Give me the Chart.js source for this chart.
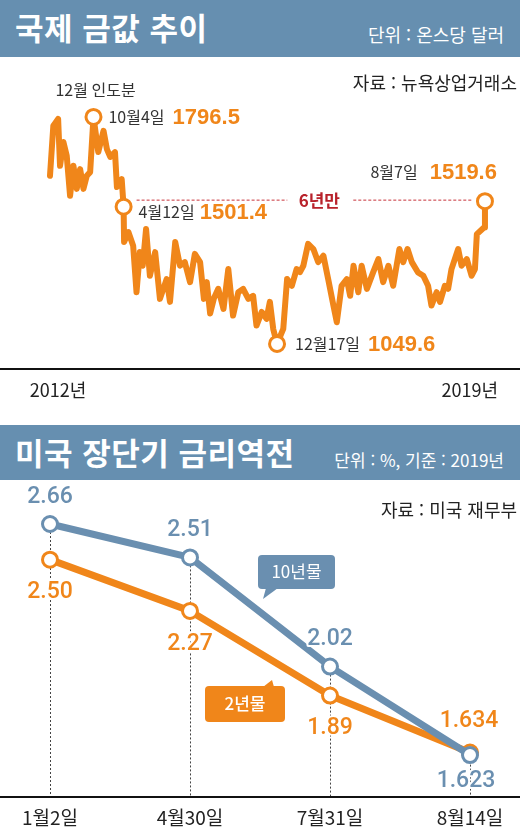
<!DOCTYPE html>
<html lang="ko">
<head>
<meta charset="utf-8">
<script src="https://cdn.jsdelivr.net/npm/chart.js@4.4.1/dist/chart.umd.min.js"></script>
<style>
  body { margin:0; width:520px; height:829px; background:#fff; position:relative; overflow:hidden;
         font-family:"Noto Sans CJK KR", sans-serif; }
  .bar { position:absolute; left:0; width:520px; background:#668fb0; color:#fff; }
  .bar h1 { position:absolute; left:15px; top:11px; margin:0; font-size:31px; font-weight:700; line-height:1; letter-spacing:0.5px; }
  .bar span { position:absolute; right:16px; line-height:1; }
  #bar1 { top:0; height:57px; }
  #bar1 span { top:25px; font-size:18px; }
  #bar2 { top:425px; height:55px; }
  #bar2 span { top:26px; font-size:17px; }
  .src { position:absolute; right:3px; font-size:18px; color:#222; line-height:1; }
  canvas { position:absolute; left:0; }
  #gold { top:57px; }
  #rate { top:480px; }
</style>
</head>
<body>
<div class="bar" id="bar1"><h1>국제 금값 추이</h1><span>단위 : 온스당 달러</span></div>
<canvas id="gold" width="520" height="353"></canvas>
<div class="src" style="top:73px">자료 : 뉴욕상업거래소</div>
<div class="bar" id="bar2"><h1>미국 장단기 금리역전</h1><span>단위 : %, 기준 : 2019년</span></div>
<canvas id="rate" width="520" height="349"></canvas>
<div class="src" style="top:500px">자료 : 미국 재무부</div>
<script>
// ---- 국제 금값 (months since Jan 2012, $/oz) ----
const goldT = [0.0,0.7,1.7,2.1,2.8,3.5,4.2,4.9,5.6,6.3,
  7.0,7.7,8.4,9.1,10.1,11.2,11.9,12.6,13.6,14.0,
  15.0,15.4,15.5,16.4,17.4,18.1,18.8,19.4,20.1,20.9,
  22.0,23.0,24.4,25.1,26.2,27.2,28.2,29.3,30.3,31.4,
  32.2,32.8,33.5,34.3,35.2,36.3,37.3,38.3,39.4,40.4,
  41.5,42.5,43.2,44.3,45.3,46.0,46.7,47.5,48.8,49.6,
  50.6,51.6,52.3,53.0,54.0,55.1,56.1,57.2,58.2,59.3,
  60.0,61.0,62.1,62.8,63.5,64.5,65.2,66.3,67.6,68.7,
  69.7,70.8,71.8,73.1,73.9,74.8,75.7,77.0,78.1,79.1,
  79.8,80.9,81.6,82.6,83.3,84.0,84.7,85.4,86.1,87.2,
  88.2,88.9,89.3,90.8,91.0];
const goldPrice = [1603,1768,1790,1636,1714,1669,1537,1636,1560,1625,
  1560,1603,1615,1796.5,1681,1751,1691,1665,1681,1566,
  1592,1501.4,1385,1418,1373,1220,1352,1307,1428,1274,
  1352,1198,1263,1188,1385,1307,1319,1253,1346,1319,
  1198,1253,1150,1200,1231,1165,1296,1143,1220,1231,
  1198,1208,1110,1155,1132,1188,1099,1049.6,1099,1263,
  1241,1296,1286,1307,1379,1362,1319,1340,1263,1176,
  1121,1241,1263,1208,1307,1220,1307,1231,1285,1329,
  1253,1307,1241,1362,1319,1362,1319,1285,1274,1241,
  1176,1220,1188,1241,1231,1296,1329,1362,1307,1329,
  1274,1296,1411,1433,1519.6];
const markValues = [1796.5, 1501.4, 1049.6, 1519.6];
const markDates  = ['10월4일', '4월12일', '12월17일', '8월7일'];
const yearLabels = ['2012년', '2019년'];

// ---- 미국 국채 금리 (%) ----
const rateDates = ['1월2일', '4월30일', '7월31일', '8월14일'];
const tenYear = [2.66, 2.51, 2.02, 1.623];
const twoYear = [2.50, 2.27, 1.89, 1.634];

const ORANGE = '#f0861a';
const BLUE = '#6a8fb0';
const KR = '"Noto Sans CJK KR", sans-serif';
const NUM = '"Liberation Sans", Arial, sans-serif';

const markIdx = markValues.map(v => goldPrice.indexOf(v));

function txt(ctx, s, x, y, font, color, align, halo) {
  ctx.font = font;
  ctx.textAlign = align || 'left';
  ctx.textBaseline = 'middle';
  if (halo) {
    ctx.strokeStyle = '#fff';
    ctx.lineWidth = 4;
    ctx.lineJoin = 'round';
    ctx.strokeText(s, x, y);
  }
  ctx.fillStyle = color;
  ctx.fillText(s, x, y);
  return ctx.measureText(s).width;
}

const goldDecor = {
  id: 'goldDecor',
  beforeDatasetsDraw(chart) {
    const ctx = chart.ctx;
    const pts = chart.getDatasetMeta(0).data;
    const a = pts[markIdx[1]], b = pts[markIdx[3]];
    const y = b.y - 1;
    const cx = (a.x + b.x) / 2 + 15;
    ctx.save();
    ctx.strokeStyle = '#c8323a';
    ctx.lineWidth = 1;
    ctx.setLineDash([3, 2]);
    ctx.beginPath();
    ctx.moveTo(a.x + 13, y); ctx.lineTo(cx - 32, y);
    ctx.moveTo(cx + 34, y); ctx.lineTo(b.x - 12, y);
    ctx.stroke();
    ctx.setLineDash([]);
    txt(ctx, '6년만', cx, y, 'bold 17px ' + KR, '#b8222b', 'center');
    ctx.restore();
  },
  afterDatasetsDraw(chart) {
    const ctx = chart.ctx;
    const area = chart.chartArea;
    const pts = chart.getDatasetMeta(0).data;
    ctx.save();
    const dateFont = '16px ' + KR, valFont = 'bold 22px ' + NUM;
    // 10월4일 peak
    let p = pts[markIdx[0]];
    txt(ctx, '12월 인도분', p.x + 2, p.y - 27, dateFont, '#333', 'center');
    let w = txt(ctx, markDates[0], p.x + 15, p.y, dateFont, '#333');
    txt(ctx, markValues[0].toFixed(1), p.x + 15 + w + 8, p.y + 1, valFont, ORANGE);
    // 4월12일
    p = pts[markIdx[1]];
    w = txt(ctx, markDates[1], p.x + 15, p.y + 5, dateFont, '#333');
    txt(ctx, markValues[1].toFixed(1), p.x + 15 + w + 5, p.y + 6, valFont, ORANGE);
    // 12월17일
    p = pts[markIdx[2]];
    w = txt(ctx, markDates[2], p.x + 18, p.y, dateFont, '#333');
    txt(ctx, markValues[2].toFixed(1), p.x + 18 + w + 8, p.y + 1, valFont, ORANGE);
    // 8월7일
    p = pts[markIdx[3]];
    ctx.font = valFont;
    const vw = ctx.measureText(markValues[3].toFixed(1)).width;
    txt(ctx, markValues[3].toFixed(1), p.x + 12, p.y - 28, valFont, ORANGE, 'right');
    txt(ctx, markDates[3], p.x + 12 - vw - 12, p.y - 29, dateFont, '#333', 'right');

    // baseline + years
    ctx.fillStyle = '#111';
    ctx.fillRect(0, area.bottom - 1, chart.width, 2);
    const yl = area.bottom + 21;
    txt(ctx, yearLabels[0], pts[0].x + 8, yl, '18px ' + KR, '#222', 'center');
    txt(ctx, yearLabels[1], pts[pts.length - 1].x + 13, yl, '18px ' + KR, '#222', 'right');
    ctx.restore();
  }
};

new Chart(document.getElementById('gold'), {
  type: 'line',
  data: {
    datasets: [{
      data: goldT.map((t, i) => ({ x: t, y: goldPrice[i] })),
      borderColor: ORANGE,
      borderWidth: 6,
      borderJoinStyle: 'round',
      borderCapStyle: 'round',
      tension: 0,
      clip: false,
      pointRadius: c => markIdx.includes(c.dataIndex) ? 7.5 : 0,
      pointBackgroundColor: '#fff',
      pointBorderColor: ORANGE,
      pointBorderWidth: 3
    }]
  },
  options: {
    responsive: false,
    animation: false,
    layout: { autoPadding: false, padding: { left: 0, right: 0, top: 0, bottom: 41 } },
    plugins: { legend: { display: false }, tooltip: { enabled: false } },
    scales: {
      x: { type: 'linear', display: false, min: -10.46, max: 98.33 },
      y: { display: false, min: 967.2, max: 1993.9 }
    }
  },
  plugins: [goldDecor]
});

function fmt(v) {
  return Math.abs(Math.round(v * 100) - v * 100) < 1e-6 ? v.toFixed(2) : v.toFixed(3);
}

function bubble(ctx, x, y, w, h, tail, color, label, font) {
  ctx.fillStyle = color;
  ctx.beginPath();
  ctx.roundRect(x, y, w, h, 4);
  ctx.fill();
  ctx.beginPath();
  ctx.moveTo(tail[0], tail[1]); ctx.lineTo(tail[2], tail[3]); ctx.lineTo(tail[4], tail[5]);
  ctx.closePath();
  ctx.fill();
  txt(ctx, label, x + w / 2, y + h / 2, font, '#fff', 'center');
}

const rateDecor = {
  id: 'rateDecor',
  beforeDatasetsDraw(chart) {
    const ctx = chart.ctx;
    const area = chart.chartArea;
    const ten = chart.getDatasetMeta(0).data, two = chart.getDatasetMeta(1).data;
    ctx.save();
    ctx.strokeStyle = '#444';
    ctx.lineWidth = 1;
    ctx.setLineDash([2, 2]);
    ten.forEach((p, i) => {
      const top = Math.min(p.y, two[i].y);
      ctx.beginPath();
      ctx.moveTo(Math.round(p.x) + 0.5, top);
      ctx.lineTo(Math.round(p.x) + 0.5, area.bottom);
      ctx.stroke();
    });
    ctx.restore();
  },
  afterDatasetsDraw(chart) {
    const ctx = chart.ctx;
    const area = chart.chartArea;
    const ten = chart.getDatasetMeta(0).data, two = chart.getDatasetMeta(1).data;
    const last = tenYear.length - 1;
    ctx.save();
    const f = '500 23px Roboto, ' + NUM;
    ten.forEach((p, i) => {
      const dy = i === last ? 26 : -27;
      txt(ctx, fmt(tenYear[i]), p.x + (i === last ? -4 : 0), p.y + dy, f, BLUE, 'center', true);
    });
    two.forEach((p, i) => {
      const dy = i === last ? -31 : 33;
      txt(ctx, fmt(twoYear[i]), p.x + (i === last ? -1 : 0), p.y + dy, f, ORANGE, 'center', true);
    });

    // callouts
    const mid = (ten[1].x + ten[2].x) / 2;
    const t = area.top;
    bubble(ctx, mid - 2, t + 75, 77, 34, [mid + 6, t + 108, mid + 18, t + 108, mid + 3, t + 119],
      BLUE, '10년물', '17px ' + KR);
    bubble(ctx, mid - 55, t + 206, 80, 36, [mid + 3, t + 207, mid + 14, t + 207, mid + 12, t + 200],
      ORANGE, '2년물', '500 17px ' + KR);

    // baseline + dates
    ctx.fillStyle = '#111';
    ctx.fillRect(0, area.bottom - 1, chart.width, 2);
    ten.forEach((p, i) => {
      txt(ctx, rateDates[i], p.x, area.bottom + 21, '19px ' + KR, '#222', 'center');
    });
    ctx.restore();
  }
};

const lineStyle = color => ({
  borderColor: color,
  borderWidth: 7,
  tension: 0,
  clip: false,
  borderJoinStyle: 'round',
  pointRadius: 7.5,
  pointBackgroundColor: '#fff',
  pointBorderColor: color,
  pointBorderWidth: 3
});

new Chart(document.getElementById('rate'), {
  type: 'line',
  data: {
    labels: rateDates,
    datasets: [
      Object.assign({ label: '10년물', data: tenYear }, lineStyle(BLUE)),
      Object.assign({ label: '2년물', data: twoYear }, lineStyle(ORANGE))
    ]
  },
  options: {
    responsive: false,
    animation: false,
    layout: { autoPadding: false, padding: { left: 50, right: 50, top: 0, bottom: 32 } },
    plugins: { legend: { display: false }, tooltip: { enabled: false } },
    scales: {
      x: { display: false, offset: false },
      y: { display: false, min: 1.4347, max: 2.8575 }
    }
  },
  plugins: [rateDecor]
});
</script>
</body>
</html>
